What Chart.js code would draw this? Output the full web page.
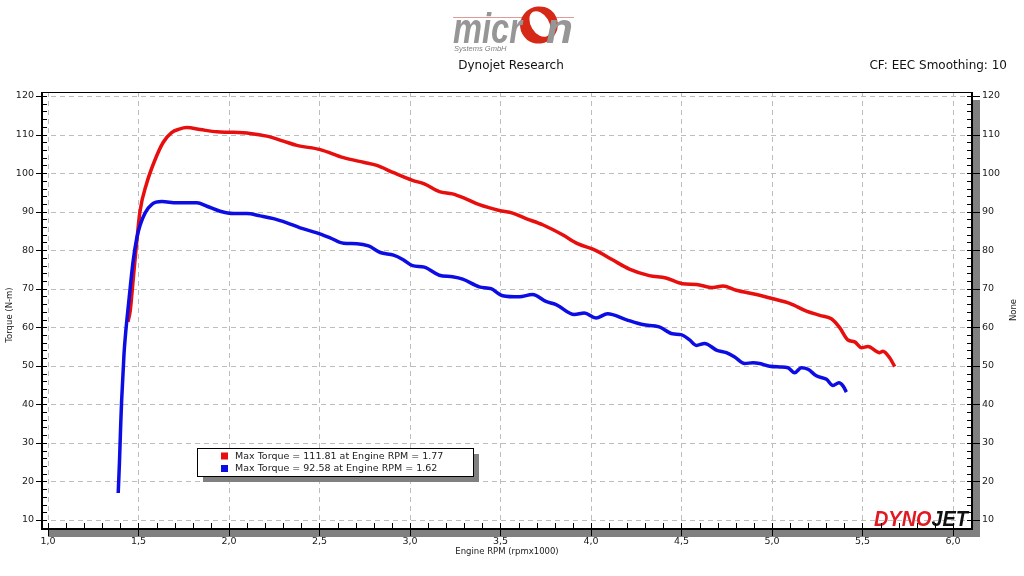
<!DOCTYPE html>
<html>
<head>
<meta charset="utf-8">
<title>Dynojet Research - Torque</title>
<script src="https://cdn.jsdelivr.net/npm/chart.js@4.4.1/dist/chart.umd.min.js"></script>
<style>
  html, body { margin: 0; padding: 0; background: #fff; }
  #dyno { display: block; }
</style>
</head>
<body>
<canvas id="dyno" width="1024" height="576"></canvas>
<script>
/* ================= DATA ================= */

const rpmRed = [1.442, 1.455, 1.47, 1.49, 1.508, 1.545, 1.591, 1.637, 1.683, 1.725, 1.767, 1.841, 1.933, 2.007, 2.117, 2.209, 2.301, 2.375, 2.504, 2.633, 2.743, 2.817, 2.909, 3.014, 3.079, 3.162, 3.235, 3.300, 3.383, 3.493, 3.567, 3.641, 3.733, 3.843, 3.926, 4.028, 4.119, 4.212, 4.322, 4.414, 4.506, 4.582, 4.674, 4.729, 4.803, 4.914, 5.006, 5.098, 5.190, 5.264, 5.328, 5.374, 5.420, 5.457, 5.494, 5.530, 5.595, 5.613, 5.650, 5.678];
const torqueRed = [61.4, 64.5, 72.0, 82.0, 90.0, 97.3, 103.4, 108.0, 110.5, 111.4, 111.8, 111.3, 110.7, 110.6, 110.3, 109.6, 108.3, 107.2, 106.1, 104.0, 102.8, 102.0, 100.1, 98.1, 97.2, 95.2, 94.6, 93.5, 91.8, 90.3, 89.6, 88.2, 86.6, 84.0, 81.7, 79.9, 77.5, 75.1, 73.4, 72.8, 71.3, 71.1, 70.3, 70.7, 69.6, 68.5, 67.4, 66.2, 64.2, 63.1, 62.2, 59.9, 56.7, 56.2, 54.7, 55.0, 53.4, 53.8, 52.1, 49.8];

const rpmBlue = [1.388, 1.395, 1.402, 1.407, 1.42, 1.43, 1.445, 1.47, 1.49, 1.509, 1.537, 1.574, 1.629, 1.712, 1.823, 1.878, 1.951, 2.025, 2.099, 2.172, 2.246, 2.320, 2.393, 2.486, 2.559, 2.633, 2.707, 2.771, 2.836, 2.909, 2.960, 3.014, 3.079, 3.162, 3.235, 3.291, 3.383, 3.448, 3.512, 3.604, 3.677, 3.751, 3.807, 3.908, 3.963, 4.028, 4.092, 4.193, 4.285, 4.377, 4.451, 4.497, 4.543, 4.582, 4.628, 4.693, 4.748, 4.794, 4.849, 4.895, 4.932, 4.987, 5.043, 5.088, 5.125, 5.162, 5.199, 5.245, 5.301, 5.337, 5.370, 5.392, 5.411];
const torqueBlue = [17.0, 25.0, 35.0, 41.0, 53.0, 59.0, 66.0, 77.0, 83.0, 86.5, 89.7, 91.9, 92.6, 92.3, 92.3, 91.4, 90.1, 89.5, 89.5, 88.9, 88.2, 87.1, 85.8, 84.5, 83.2, 81.8, 81.7, 81.1, 79.4, 78.7, 77.6, 76.0, 75.6, 73.5, 73.1, 72.5, 70.5, 70.0, 68.2, 67.9, 68.5, 66.7, 65.9, 63.3, 63.7, 62.4, 63.5, 62.0, 60.7, 60.1, 58.3, 58.1, 56.8, 55.3, 55.8, 54.1, 53.4, 52.3, 50.6, 50.8, 50.6, 49.9, 49.7, 49.5, 48.2, 49.5, 49.1, 47.4, 46.5, 44.9, 45.6, 44.8, 43.2];

const xTicks = [1.0, 1.5, 2.0, 2.5, 3.0, 3.5, 4.0, 4.5, 5.0, 5.5, 6.0];
const xTickLabels = ["1,0", "1,5", "2,0", "2,5", "3,0", "3,5", "4,0", "4,5", "5,0", "5,5", "6,0"];
const yTicks = [10, 20, 30, 40, 50, 60, 70, 80, 90, 100, 110, 120];
const yTickLabels = ["10", "20", "30", "40", "50", "60", "70", "80", "90", "100", "110", "120"];

const legendLabels = [
  "Max Torque = 111.81 at Engine RPM = 1.77",
  "Max Torque = 92.58 at Engine RPM = 1.62"
];

const RED = "rgb(232,14,14)";
const BLUE = "rgb(12,12,228)";
const FONT = '"DejaVu Sans", Verdana, sans-serif';

/* ================= HELPERS ================= */

function toPoints(xs, ys) {
  return xs.map((v, i) => ({ x: v, y: ys[i] }));
}

function drawMicronLogo(ctx) {
  ctx.save();
  // thin line above the lettering
  ctx.strokeStyle = "rgba(200,90,80,0.6)";
  ctx.lineWidth = 1;
  ctx.beginPath();
  ctx.moveTo(453, 17.5);
  ctx.lineTo(574, 17.5);
  ctx.stroke();

  // red ring ("o")
  ctx.fillStyle = "rgb(214,40,22)";
  ctx.beginPath();
  ctx.ellipse(539, 25, 19, 18.5, -0.5, 0, Math.PI * 2);
  ctx.fill();
  ctx.fillStyle = "#fff";
  ctx.beginPath();
  ctx.ellipse(540, 24, 9, 14, -0.55, 0, Math.PI * 2);
  ctx.fill();

  // grey letters
  ctx.fillStyle = "rgb(150,150,150)";
  ctx.font = 'italic bold 42px "Liberation Sans", Arial, sans-serif';
  ctx.textBaseline = "alphabetic";
  ctx.textAlign = "left";
  const w = ctx.measureText("micr").width;
  ctx.save();
  ctx.translate(453, 43);
  ctx.scale(69 / w, 1);
  ctx.fillText("micr", 0, 0);
  ctx.restore();
  const wn = ctx.measureText("n").width;
  ctx.save();
  ctx.translate(546, 43);
  ctx.scale(27 / wn, 1);
  ctx.fillText("n", 0, 0);
  ctx.restore();

  ctx.font = 'italic 7.5px "Liberation Sans", Arial, sans-serif';
  ctx.fillStyle = "rgb(130,130,130)";
  ctx.fillText("Systems GmbH", 454, 51);
  ctx.restore();
}

function drawDynojetLogo(ctx, right, bottom) {
  ctx.save();
  ctx.font = 'italic bold 22px "Liberation Sans", Arial, sans-serif';
  ctx.textBaseline = "alphabetic";
  ctx.textAlign = "left";
  const w1 = ctx.measureText("DYNO").width;
  const w2 = ctx.measureText("JET").width;
  const sx = 94 / (w1 + w2);
  ctx.translate(right - 96, bottom - 1);
  ctx.scale(sx, 1);
  ctx.fillStyle = "rgb(225,25,35)";
  ctx.fillText("DYNO", 0, 0);
  ctx.fillStyle = "#111";
  ctx.fillText("JET", w1, 0);
  ctx.restore();
}

/* ================= FRAME PLUGIN ================= */

const dynoFrame = {
  id: "dynoFrame",
  beforeDatasetsDraw(chart) {
    const { ctx, chartArea: a, scales } = chart;
    const x = scales.x, y = scales.y;
    ctx.save();

    // shadow of the plot panel
    ctx.fillStyle = "#808080";
    ctx.fillRect(a.left + 6, a.bottom + 1, a.right - a.left + 1, 7);
    ctx.fillRect(a.right + 1, a.top + 8, 7, a.bottom - a.top);

    // dashed grid
    ctx.strokeStyle = "#bdbdbd";
    ctx.lineWidth = 1;
    ctx.setLineDash([5, 4]);
    yTicks.forEach(v => {
      const py = Math.round(y.getPixelForValue(v)) + 0.5;
      ctx.beginPath();
      ctx.moveTo(a.left, py);
      ctx.lineTo(a.right, py);
      ctx.stroke();
    });
    xTicks.forEach(v => {
      const px = Math.round(x.getPixelForValue(v)) + 0.5;
      ctx.beginPath();
      ctx.moveTo(px, a.top);
      ctx.lineTo(px, a.bottom);
      ctx.stroke();
    });
    ctx.restore();
  },
  afterDraw(chart) {
    const { ctx, chartArea: a, scales } = chart;
    const x = scales.x, y = scales.y;
    ctx.save();

    // DYNOJET mark sits inside the plot
    drawDynojetLogo(ctx, a.right - 2, a.bottom - 2);

    // frame
    ctx.strokeStyle = "#000";
    ctx.lineWidth = 1;
    ctx.beginPath();
    ctx.moveTo(a.left, a.top + 0.5);
    ctx.lineTo(a.right, a.top + 0.5);
    ctx.stroke();
    ctx.lineWidth = 2;
    ctx.beginPath();
    ctx.moveTo(a.left, a.top);
    ctx.lineTo(a.left, a.bottom);
    ctx.lineTo(a.right, a.bottom);
    ctx.lineTo(a.right, a.top);
    ctx.stroke();

    // y ticks (both sides)
    ctx.lineWidth = 1;
    for (let v = 8; v <= 120; v += 2) {
      const py = Math.round(y.getPixelForValue(v)) + 0.5;
      const major = v % 10 === 0;
      ctx.beginPath();
      ctx.moveTo(major ? a.left - 6 : a.left, py);
      ctx.lineTo(a.left + 5, py);
      ctx.moveTo(a.right - 5, py);
      ctx.lineTo(major ? a.right + 8 : a.right, py);
      ctx.stroke();
    }
    // x ticks
    for (let i = 10; i <= 60; i++) {
      const px = Math.round(x.getPixelForValue(i / 10)) + 0.5;
      const major = i % 5 === 0;
      ctx.beginPath();
      ctx.moveTo(px, a.bottom - 6);
      ctx.lineTo(px, major ? a.bottom + 7 : a.bottom);
      ctx.stroke();
    }

    // tick labels
    ctx.fillStyle = "#1a1a1a";
    ctx.font = "9.5px " + FONT;
    ctx.textBaseline = "middle";
    yTicks.forEach((v, i) => {
      const py = y.getPixelForValue(v);
      ctx.textAlign = "right";
      ctx.fillText(yTickLabels[i], a.left - 8, py);
      ctx.textAlign = "left";
      ctx.fillText(yTickLabels[i], a.right + 10, py);
    });
    ctx.textAlign = "center";
    ctx.textBaseline = "top";
    xTicks.forEach((v, i) => {
      ctx.fillText(xTickLabels[i], x.getPixelForValue(v), a.bottom + 8);
    });

    // axis titles
    ctx.font = "8.5px " + FONT;
    ctx.textBaseline = "middle";
    ctx.fillText("Engine RPM (rpmx1000)", 507, 552);
    ctx.save();
    ctx.translate(10, 315);
    ctx.rotate(-Math.PI / 2);
    ctx.fillText("Torque (N-m)", 0, 0);
    ctx.restore();
    ctx.save();
    ctx.translate(1014, 310);
    ctx.rotate(-Math.PI / 2);
    ctx.fillText("None", 0, 0);
    ctx.restore();

    // header
    drawMicronLogo(ctx);
    ctx.fillStyle = "#111";
    ctx.font = "12px " + FONT;
    ctx.textAlign = "center";
    ctx.textBaseline = "middle";
    ctx.fillText("Dynojet Research", 511, 66);
    ctx.textAlign = "right";
    ctx.fillText("CF: EEC Smoothing: 10", 1007, 66);

    // legend box with shadow
    const bx = 197, by = 448, bw = 276, bh = 28;
    ctx.fillStyle = "#808080";
    ctx.fillRect(bx + 6, by + 6, bw, bh);
    ctx.fillStyle = "#fff";
    ctx.fillRect(bx, by, bw, bh);
    ctx.strokeStyle = "#000";
    ctx.lineWidth = 1;
    ctx.strokeRect(bx + 0.5, by + 0.5, bw, bh);
    const colors = [RED, BLUE];
    ctx.font = "9.5px " + FONT;
    ctx.textAlign = "left";
    legendLabels.forEach((t, i) => {
      const cy = by + 8 + i * 12.5;
      ctx.fillStyle = colors[i];
      ctx.fillRect(221, cy - 3.5, 7, 7);
      ctx.fillStyle = "#1a1a1a";
      ctx.fillText(t, 235, cy + 0.5);
    });
    ctx.restore();
  }
};

/* ================= CHART ================= */

const X_MIN = 0.967, X_MAX = 6.105;
const Y_MIN = 7.665, Y_MAX = 121.04;

new Chart(document.getElementById("dyno"), {
  type: "line",
  data: {
    datasets: [
      {
        label: "Run 2",
        data: toPoints(rpmBlue, torqueBlue),
        borderColor: BLUE,
        borderWidth: 3.5,
        pointRadius: 0,
        cubicInterpolationMode: "monotone",
        fill: false
      },
      {
        label: "Run 1",
        data: toPoints(rpmRed, torqueRed),
        borderColor: RED,
        borderWidth: 3.5,
        pointRadius: 0,
        cubicInterpolationMode: "monotone",
        fill: false
      }
    ]
  },
  options: {
    responsive: false,
    animation: false,
    events: [],
    layout: { padding: { left: 42, top: 92, right: 52, bottom: 47 } },
    scales: {
      x: { type: "linear", min: X_MIN, max: X_MAX, display: false },
      y: { type: "linear", min: Y_MIN, max: Y_MAX, display: false }
    },
    plugins: {
      legend: { display: false },
      tooltip: { enabled: false },
      title: { display: false }
    }
  },
  plugins: [dynoFrame]
});
</script>
</body>
</html>
